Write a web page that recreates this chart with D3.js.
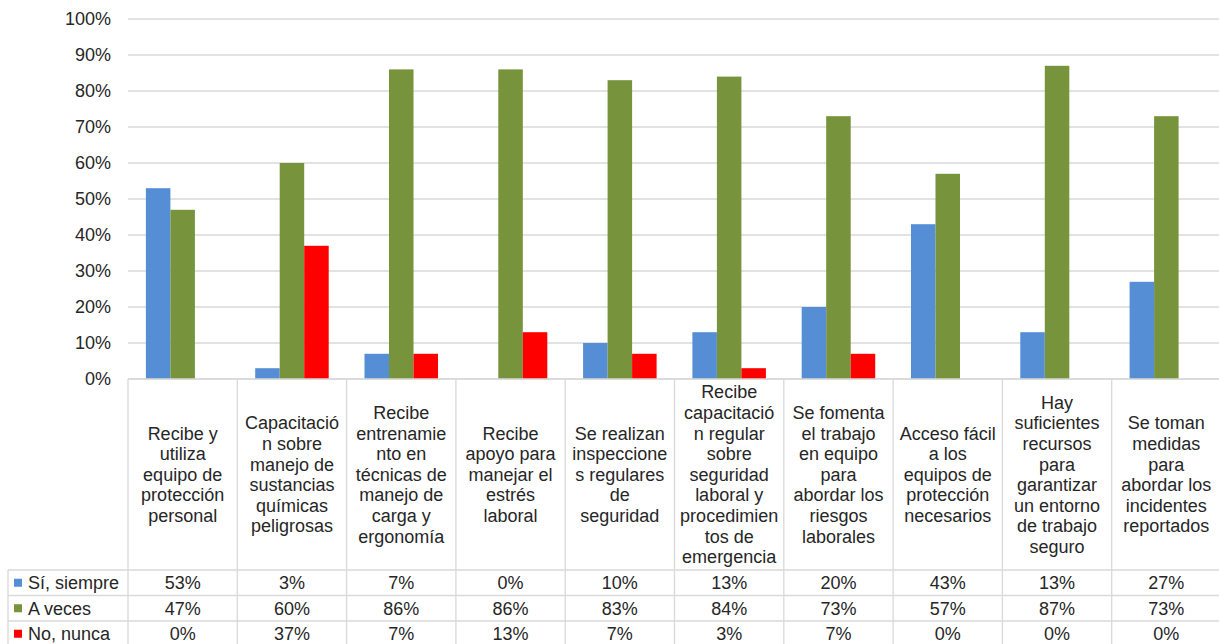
<!DOCTYPE html>
<html><head><meta charset="utf-8">
<script src="https://cdn.jsdelivr.net/npm/d3@7"></script>
<style>body{margin:0;background:#fff;}svg{display:block;font-family:"Liberation Sans",Arial,sans-serif;}</style>
</head><body>
<svg id="c" width="1219" height="644"></svg>
<script>
const categoryLines = [
  ["Recibe y","utiliza","equipo de","protección","personal"],
  ["Capacitació","n sobre","manejo de","sustancias","químicas","peligrosas"],
  ["Recibe","entrenamie","nto en","técnicas de","manejo de","carga y","ergonomía"],
  ["Recibe","apoyo para","manejar el","estrés","laboral"],
  ["Se realizan","inspeccione","s regulares","de","seguridad"],
  ["Recibe","capacitació","n regular","sobre","seguridad","laboral y","procedimien","tos de","emergencia"],
  ["Se fomenta","el trabajo","en equipo","para","abordar los","riesgos","laborales"],
  ["Acceso fácil","a los","equipos de","protección","necesarios"],
  ["Hay","suficientes","recursos","para","garantizar","un entorno","de trabajo","seguro"],
  ["Se toman","medidas","para","abordar los","incidentes","reportados"]
];
const categories = categoryLines.map(l => l.join(" "));
const seriesNames = ["Sí, siempre","A veces","No, nunca"];
const siempre = [53,3,7,0,10,13,20,43,13,27];
const aVeces  = [47,60,86,86,83,84,73,57,87,73];
const nunca   = [0,37,7,13,7,3,7,0,0,0];
const seriesValues = [siempre, aVeces, nunca];
const colors = ["#558ED5","#77933C","#FF0000"];
const yTicks = [0,10,20,30,40,50,60,70,80,90,100];

const svg = d3.select("#c");
const left = 128, step = 109.3, fs = 18;
const x = d3.scaleBand().domain(categories).range([left, left + step*categories.length]).padding(0);
const x1 = d3.scaleBand().domain(seriesNames).range([0, x.bandwidth()]).paddingInner(0).paddingOuter(0.73);
const y = d3.scaleLinear().domain([0,100]).range([379,19]);
const textColor = "#262626", lineColor = "#D9D9D9";

// gridlines
svg.append("g").selectAll("line").data(yTicks).join("line")
  .attr("x1", left).attr("x2", 1219)
  .attr("y1", d => y(d)).attr("y2", d => y(d))
  .attr("stroke", lineColor).attr("stroke-width", 1.3);
// y labels
svg.append("g").selectAll("text").data(yTicks).join("text")
  .attr("x", 111).attr("y", d => y(d)).attr("dy", "0.35em")
  .attr("text-anchor","end").attr("font-size", fs).attr("fill", textColor)
  .text(d => d + "%");

// bars
seriesNames.forEach((s, si) => {
  svg.append("g").selectAll("rect").data(categories).join("rect")
    .attr("x", c => x(c) + x1(s))
    .attr("width", x1.bandwidth())
    .attr("y", (c, i) => y(seriesValues[si][i]))
    .attr("height", (c, i) => y(0) - y(seriesValues[si][i]))
    .attr("fill", colors[si]);
});

// table
const headTop = 379, headBottom = 570, rowH = 25.5, tableLeft = 8;
const rowTops = seriesNames.map((s,i) => headBottom + i*rowH);
const tableBottom = headBottom + 3*rowH;
const tg = svg.append("g");
tg.append("line").attr("x1", left).attr("x2", 1219).attr("y1", headTop).attr("y2", headTop)
  .attr("stroke", lineColor).attr("stroke-width", 1.3);
[headBottom, headBottom+rowH, headBottom+2*rowH, tableBottom].forEach(yy => {
  tg.append("line").attr("x1", tableLeft).attr("x2", 1219).attr("y1", yy).attr("y2", yy)
    .attr("stroke", lineColor).attr("stroke-width", 1.3);
});
tg.selectAll("line.v").data(categories).join("line").attr("class","v")
  .attr("x1", c => x(c)).attr("x2", c => x(c))
  .attr("y1", headTop).attr("y2", tableBottom)
  .attr("stroke", lineColor).attr("stroke-width", 1.3);
tg.append("line").attr("x1", tableLeft).attr("x2", tableLeft).attr("y1", headBottom).attr("y2", tableBottom)
  .attr("stroke", lineColor).attr("stroke-width", 1.3);

// category labels
const lh = 20.6, midHead = (headTop + headBottom)/2;
categories.forEach((c, i) => {
  const lines = categoryLines[i];
  const t = tg.append("text").attr("text-anchor","middle").attr("font-size", fs).attr("fill", textColor);
  const y0 = midHead - (lines.length - 1) * lh / 2;
  lines.forEach((ln, k) => {
    t.append("tspan").attr("x", x(c) + x.bandwidth()/2).attr("y", y0 + k*lh).attr("dy","0.35em").text(ln);
  });
});
// legend + values
seriesNames.forEach((s, si) => {
  const cy = rowTops[si] + rowH/2;
  tg.append("rect").attr("x", 14).attr("y", cy - 4).attr("width", 8).attr("height", 8).attr("fill", colors[si]);
  tg.append("text").attr("x", 28).attr("y", cy).attr("dy","0.35em").attr("font-size", fs).attr("fill", textColor).text(s);
  tg.append("g").selectAll("text").data(categories).join("text")
    .attr("x", c => x(c) + x.bandwidth()/2).attr("y", cy).attr("dy","0.35em")
    .attr("text-anchor","middle").attr("font-size", fs).attr("fill", textColor)
    .text((c, i) => seriesValues[si][i] + "%");
});
</script>
</body></html>
